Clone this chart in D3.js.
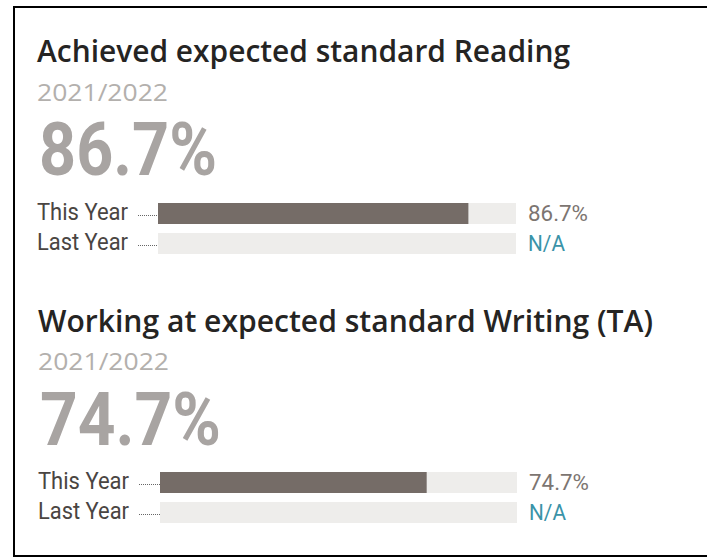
<!DOCTYPE html>
<html><head><meta charset="utf-8">
<script src="https://cdn.jsdelivr.net/npm/d3@7"></script>
<style>html,body{margin:0;padding:0;background:#fff;}svg{display:block;}</style>
</head><body>
<script>
// ---- data ----
const titles = ["Achieved expected standard Reading", "Working at expected standard Writing (TA)"];
const periods = ["2021/2022", "2021/2022"];
const rowLabels = ["This Year", "Last Year"];
const thisYear = [86.7, 74.7];
const lastYear = [null, null];

const W = 707, H = 558;
const svg = d3.select("body").append("svg").attr("width", W).attr("height", H);

// frame (right edge falls outside the picture)
svg.append("rect").attr("x", 14).attr("y", 7).attr("width", W + 10).attr("height", 549)
  .attr("fill", "none").attr("stroke", "#000").attr("stroke-width", 2);

const layouts = [
  {x: 37, titleY: 62, titleW: 533, dateY: 100.5, dateW: 131, bigY: 175, bigW: 178, rowTop: 203, barX0: 158, barX1: 516, valX: 528},
  {x: 38, titleY: 331.5, titleW: 615, dateY: 370, dateW: 131, bigY: 445, bigW: 181, rowTop: 472, barX0: 160, barX1: 517, valX: 529}
];
const fmt = v => v == null ? "N/A" : d3.format(".1f")(v) + "%";

function fitText(sel, w) { sel.attr("textLength", w).attr("lengthAdjust", "spacingAndGlyphs"); }

titles.forEach((t, i) => {
  const L = layouts[i];
  const g = svg.append("g");
  g.append("text").attr("x", L.x).attr("y", L.titleY).text(t)
    .attr("font-family", "'Open Sans', sans-serif").attr("font-weight", 600)
    .attr("font-size", 30).attr("fill", "#252423").call(fitText, L.titleW);
  g.append("text").attr("x", L.x).attr("y", L.dateY).text(periods[i])
    .attr("font-family", "'Open Sans', sans-serif").attr("font-size", 24)
    .attr("fill", "#b3b0ad").call(fitText, L.dateW);
  g.append("text").attr("x", L.x + 2).attr("y", L.bigY).text(fmt(thisYear[i]))
    .attr("font-family", "Roboto, sans-serif").attr("font-weight", 700)
    .attr("font-size", 74).attr("fill", "#a8a4a2").call(fitText, L.bigW);

  const x = d3.scaleLinear().domain([0, 100]).range([L.barX0, L.barX1]);
  const y = d3.scaleBand().domain(rowLabels).range([L.rowTop, L.rowTop + 51]).paddingInner(0.3);
  const vals = [thisYear[i], lastYear[i]];

  rowLabels.forEach((r, j) => {
    const yy = y(r), bh = y.bandwidth();
    g.append("text").attr("x", L.x).attr("y", yy + bh - 4).text(r)
      .attr("font-family", "Roboto, sans-serif").attr("font-size", 23)
      .attr("fill", "#4a4542").call(fitText, 91);
    g.append("line").attr("x1", L.x + 101).attr("x2", x(0)).attr("y1", yy + bh / 2 + 2).attr("y2", yy + bh / 2 + 2)
      .attr("stroke", "#666").attr("stroke-width", 1).attr("stroke-dasharray", "1,1");
    g.append("rect").attr("x", x(0)).attr("y", yy).attr("width", x(100) - x(0)).attr("height", bh)
      .attr("fill", "#eeedeb");
    if (vals[j] != null) {
      g.append("rect").attr("x", x(0)).attr("y", yy).attr("width", x(vals[j]) - x(0)).attr("height", bh)
        .attr("fill", "#756c67");
    }
    const vt = g.append("text").attr("x", L.valX).attr("y", yy + bh - 3).text(fmt(vals[j]))
      .attr("font-family", "Roboto, sans-serif").attr("font-size", 22)
      .attr("fill", vals[j] == null ? "#3a93a8" : "#7c7571");
    vt.call(fitText, vals[j] == null ? 37 : 60);
  });
});
</script>
</body></html>
